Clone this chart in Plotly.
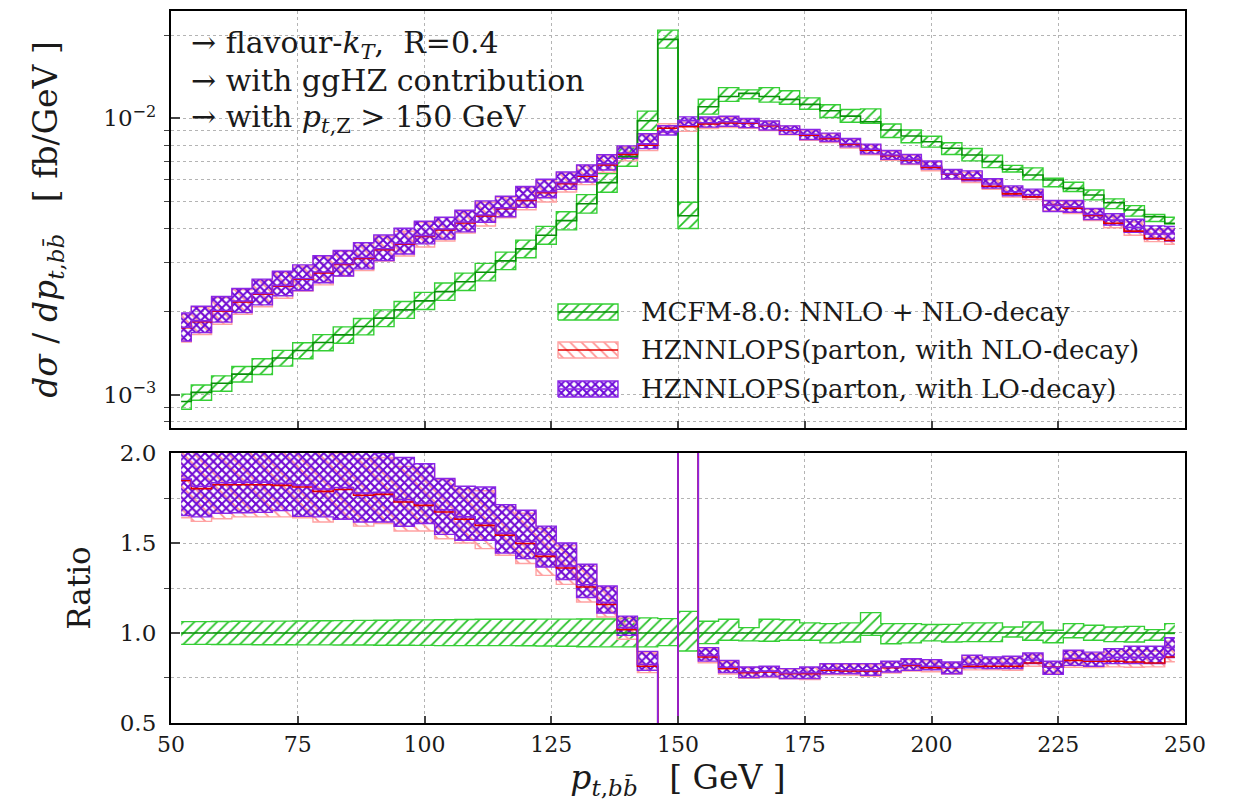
import plotly.graph_objects as go

# ---- data: differential cross section in p_t,bb (bin centres, 4 GeV bins) ----
pt = list(range(52, 249, 4))

# MCFM-8.0 NNLO + NLO-decay central value [fb/GeV]
mcfm = [0.000946, 0.00102, 0.00110, 0.001188, 0.001266, 0.001358, 0.001446, 0.001545,
        0.001647, 0.001765, 0.001893, 0.002028, 0.002186, 0.002361, 0.002563, 0.002776,
        0.00305, 0.00337, 0.003776, 0.004265, 0.004912, 0.005853, 0.00727, 0.0098,
        0.0193, 0.00444, 0.01101, 0.0120, 0.01231, 0.0120, 0.01171, 0.01123,
        0.01065, 0.01019, 0.00972, 0.00907, 0.00863, 0.00823, 0.00779, 0.00737,
        0.00697, 0.00654, 0.00624, 0.00598, 0.00558, 0.00528, 0.00495, 0.00466,
        0.00441, 0.00417]

# MCFM scale band relative to its central value
mcfm_lo_r = [0.937, 0.937, 0.936, 0.936, 0.935, 0.935, 0.934, 0.934, 0.933, 0.933,
             0.932, 0.932, 0.931, 0.930, 0.930, 0.930, 0.930, 0.929, 0.928, 0.926,
             0.924, 0.923, 0.923, 0.923, 0.930, 0.900, 0.941, 0.960, 0.956, 0.954,
             0.960, 0.960, 0.945, 0.950, 0.987, 0.940, 0.945, 0.956, 0.950, 0.952,
             0.952, 0.978, 0.960, 0.946, 0.974, 0.960, 0.952, 0.950, 0.960, 0.997]
mcfm_hi_r = [1.063, 1.063, 1.064, 1.065, 1.066, 1.066, 1.067, 1.068, 1.069, 1.070,
             1.071, 1.072, 1.073, 1.074, 1.075, 1.076, 1.076, 1.076, 1.077, 1.077,
             1.078, 1.078, 1.082, 1.084, 1.080, 1.120, 1.065, 1.076, 1.030, 1.076,
             1.074, 1.056, 1.052, 1.056, 1.113, 1.052, 1.052, 1.047, 1.048, 1.056,
             1.056, 1.033, 1.061, 1.015, 1.052, 1.043, 1.033, 1.037, 1.019, 1.052]

# HZNNLOPS (parton, NLO-decay) relative to MCFM central
nlo_r = [1.848, 1.802, 1.824, 1.824, 1.824, 1.820, 1.811, 1.787, 1.797, 1.765,
         1.770, 1.728, 1.709, 1.672, 1.632, 1.598, 1.543, 1.497, 1.426, 1.361,
         1.256, 1.158, 1.019, 0.815, 0.477, 2.10, 0.867, 0.802, 0.780, 0.783,
         0.774, 0.774, 0.793, 0.789, 0.789, 0.807, 0.820, 0.807, 0.807, 0.815,
         0.815, 0.815, 0.833, 0.811, 0.848, 0.843, 0.843, 0.839, 0.833, 0.867]
nlo_lo_r = [1.640, 1.620, 1.635, 1.645, 1.645, 1.645, 1.640, 1.617, 1.632, 1.594,
            1.608, 1.567, 1.567, 1.524, 1.500, 1.469, 1.432, 1.386, 1.320, 1.270,
            1.172, 1.089, 0.965, 0.780, 0.460, 2.02, 0.835, 0.772, 0.748, 0.752,
            0.745, 0.742, 0.768, 0.766, 0.760, 0.778, 0.788, 0.785, 0.772, 0.795,
            0.795, 0.793, 0.815, 0.775, 0.810, 0.808, 0.812, 0.810, 0.812, 0.840]
nlo_hi_r = [2.06, 2.03, 2.04, 2.02, 2.05, 2.04, 2.02, 2.04, 2.00, 1.97,
            1.975, 1.926, 1.920, 1.852, 1.797, 1.790, 1.700, 1.665, 1.580, 1.485,
            1.370, 1.250, 1.085, 0.890, 0.495, 2.18, 0.912, 0.840, 0.808, 0.812,
            0.800, 0.806, 0.826, 0.825, 0.824, 0.838, 0.852, 0.845, 0.835, 0.865,
            0.858, 0.860, 0.878, 0.840, 0.895, 0.885, 0.895, 0.905, 0.900, 0.955]

# HZNNLOPS (parton, LO-decay) relative to MCFM central
lo_r = [1.855, 1.815, 1.835, 1.838, 1.838, 1.832, 1.822, 1.800, 1.808, 1.778,
        1.782, 1.740, 1.722, 1.685, 1.645, 1.610, 1.555, 1.510, 1.438, 1.372,
        1.268, 1.170, 1.030, 0.825, 0.464, 2.21, 0.875, 0.810, 0.785, 0.788,
        0.778, 0.780, 0.800, 0.796, 0.795, 0.812, 0.825, 0.815, 0.810, 0.825,
        0.830, 0.830, 0.850, 0.810, 0.858, 0.850, 0.865, 0.865, 0.865, 0.918]
lo_lo_r = [1.652, 1.645, 1.665, 1.668, 1.670, 1.680, 1.648, 1.645, 1.632, 1.617,
           1.617, 1.593, 1.608, 1.548, 1.515, 1.515, 1.444, 1.413, 1.367, 1.297,
           1.197, 1.111, 0.987, 0.793, 0.451, 2.12, 0.844, 0.780, 0.752, 0.756,
           0.747, 0.747, 0.774, 0.774, 0.765, 0.783, 0.793, 0.796, 0.774, 0.807,
           0.802, 0.802, 0.830, 0.770, 0.820, 0.815, 0.830, 0.830, 0.830, 0.863]
lo_hi_r = [2.09, 2.05, 2.06, 2.04, 2.07, 2.06, 2.04, 2.06, 2.02, 2.01,
           2.00, 1.975, 1.940, 1.858, 1.815, 1.811, 1.713, 1.682, 1.594, 1.500,
           1.382, 1.261, 1.094, 0.898, 0.487, 2.28, 0.919, 0.848, 0.811, 0.815,
           0.802, 0.811, 0.830, 0.830, 0.830, 0.843, 0.857, 0.852, 0.839, 0.876,
           0.867, 0.871, 0.889, 0.843, 0.904, 0.894, 0.913, 0.926, 0.926, 0.974]

names = ["MCFM-8.0: NNLO + NLO-decay",
         "HZNNLOPS(parton, with NLO-decay)",
         "HZNNLOPS(parton, with LO-decay)"]

FONT = "DejaVu Serif"
INK = "#1a1a1a"

# figure geometry (pixels) used to place the in-plot legend
W, H = 1244, 807
L, R, T, B = 171, 59, 11, 84


def px_x(p):
    return (p - L) / (W - L - R)


def px_y(p):
    return (H - B - p) / (H - T - B)


def scaled(ratios):
    return [m * r for m, r in zip(mcfm, ratios)]


fig = go.Figure()

styles = [
    # edge, pattern colour, pattern, size, solidity, central line
    ("#35cf35", "#22c022", "/", 8, 0.22, "#089008"),
    ("#ffa3a3", "#ff9090", "\\", 8, 0.22, "#e00000"),
    ("#8a26e6", "#6c08d8", "x", 6, 0.55, "#8a26e6"),
]


def pattern(st):
    edge, pc, shp, sz, sol, mc = st
    return dict(shape=shp, fgcolor=pc, fgopacity=1, bgcolor="rgba(255,255,255,0)",
                size=sz, solidity=sol)


def add_band(lo, hi, xa, ya, st):
    edge = st[0]
    common = dict(x=pt, xaxis=xa, yaxis=ya, mode="lines", hoverinfo="skip",
                  showlegend=False)
    fig.add_trace(go.Scatter(y=lo, line=dict(color=edge, width=1.4, shape="hvh"),
                             **common))
    fig.add_trace(go.Scatter(y=hi, line=dict(color=edge, width=1.4, shape="hvh"),
                             fill="tonexty", fillcolor="rgba(0,0,0,0)",
                             fillpattern=pattern(st), **common))


def add_central(mid, xa, ya, st):
    fig.add_trace(go.Scatter(x=pt, y=mid, xaxis=xa, yaxis=ya, mode="lines",
                             line=dict(color=st[5], width=1.6, shape="hvh"),
                             hoverinfo="skip", showlegend=False))


series_ratio = [
    (mcfm_lo_r, [1.0] * len(pt), mcfm_hi_r),
    (nlo_lo_r, nlo_r, nlo_hi_r),
    (lo_lo_r, lo_r, lo_hi_r),
]

# hatched uncertainty bands: upper panel absolute, lower panel ratio to MCFM
for (lo, mid, hi), st in zip(series_ratio, styles):
    add_band(scaled(lo), scaled(hi), "x", "y", st)
    add_band(lo, hi, "x2", "y2", st)

# central values drawn over all bands
for (lo, mid, hi), st in zip(series_ratio, styles):
    add_central(scaled(mid), "x", "y", st)
    add_central(mid, "x2", "y2", st)

# legend drawn on a transparent overlay axis spanning the whole plot area
legend_rows = [312, 350, 389]
x0, x1 = px_x(558), px_x(618)
annotations = []
for row, st, nm in zip(legend_rows, styles, names):
    edge, pc, shp, sz, sol, mc = st
    y0, y1 = px_y(row + 8), px_y(row - 8)
    fig.add_trace(go.Scatter(x=[x0, x1, x1, x0, x0], y=[y0, y0, y1, y1, y0],
                             xaxis="x3", yaxis="y3", mode="lines", fill="toself",
                             fillcolor="rgba(0,0,0,0)", fillpattern=pattern(st),
                             line=dict(color=edge, width=1.4), hoverinfo="skip",
                             showlegend=False))
    ym = px_y(row)
    fig.add_trace(go.Scatter(x=[x0, x1], y=[ym, ym], xaxis="x3", yaxis="y3",
                             mode="lines", line=dict(color=mc, width=1.6),
                             hoverinfo="skip", showlegend=False))
    annotations.append(dict(xref="paper", yref="paper", x=px_x(639), y=ym,
                            xanchor="left", yanchor="middle", showarrow=False,
                            text=nm, font=dict(family=FONT, size=26, color=INK)))

# header lines in the top-left corner
header = ["\u2192 flavour-<i>k</i><sub><i>T</i></sub>,  R=0.4",
          "\u2192 with ggHZ contribution",
          "\u2192 with <i>p</i><sub><i>t</i>,Z</sub> &gt; 150 GeV"]
for row, txt in zip([45, 81, 118], header):
    annotations.append(dict(xref="paper", yref="paper", x=px_x(189), y=px_y(row),
                            xanchor="left", yanchor="middle", showarrow=False,
                            text=txt, font=dict(family=FONT, size=30, color=INK)))

grid = dict(showgrid=True, gridcolor="#b4b4b4", gridwidth=1, griddash="3px,3px")
frame = dict(showline=True, linecolor="black", linewidth=2.2, mirror=True,
             zeroline=False, automargin=False)
xtickfont = dict(family=FONT, size=22, color=INK)
ytickfont = dict(family=FONT, size=23, color=INK)
minor_grid = dict(ticks="outside", ticklen=5, tickwidth=1, showgrid=True,
                  gridcolor="#b4b4b4", griddash="3px,3px")

minor_log = [8e-4, 9e-4] + [k * 1e-3 for k in range(2, 10)] + [2e-2]

sub = "<sub><i>t</i>,<i>b</i><i>b&#772;</i></sub>"
title_font = dict(family=FONT, size=33, color=INK)

fig.update_layout(
    width=W, height=H,
    margin=dict(l=L, r=R, t=T, b=B, autoexpand=False),
    paper_bgcolor="white", plot_bgcolor="rgba(0,0,0,0)",
    font=dict(family=FONT, color=INK),
    showlegend=False,
    xaxis=dict(domain=[0, 1], anchor="y", range=[50, 250], matches="x2",
               showticklabels=False, ticks="inside", ticklen=7, tickwidth=1.5,
               tickvals=[75, 100, 125, 150, 175, 200, 225], **grid, **frame),
    yaxis=dict(domain=[0.4143, 1], anchor="x", type="log",
               range=[-3.1203, -1.6117],
               tickmode="array", tickvals=[1e-3, 1e-2],
               ticktext=["10<sup>\u22123</sup>", "10<sup>\u22122</sup>"],
               ticks="inside", ticklen=9, tickwidth=1.5, tickfont=ytickfont,
               ticklabelstandoff=8,
               minor=dict(tickmode="array", tickvals=minor_log, **minor_grid),
               title=dict(text="<i>d\u03c3</i> / <i>dp</i>" + sub + "   [ fb/GeV ]",
                          font=title_font, standoff=36),
               **grid, **frame),
    xaxis2=dict(domain=[0, 1], anchor="y2", range=[50, 250],
                tickmode="array",
                tickvals=[50, 75, 100, 125, 150, 175, 200, 225, 250],
                ticks="inside", ticklen=7, tickwidth=1.5, tickfont=xtickfont,
                title=dict(text="<i>p</i>" + sub + "   [ GeV ]",
                           font=title_font, standoff=10),
                **grid, **frame),
    yaxis2=dict(domain=[0, 0.3792], anchor="x2", range=[0.5, 2.0],
                tickmode="array", tickvals=[0.5, 1.0, 1.5, 2.0],
                ticktext=["0.5", "1.0", "1.5", "2.0"],
                ticks="inside", ticklen=9, tickwidth=1.5, tickfont=ytickfont,
                ticklabelstandoff=8,
                minor=dict(tickmode="array", tickvals=[0.75, 1.25, 1.75],
                           **minor_grid),
                title=dict(text="Ratio", font=dict(family=FONT, size=31, color=INK),
                           standoff=20),
                **grid, **frame),
    xaxis3=dict(domain=[0, 1], anchor="y3", range=[0, 1], visible=False,
                fixedrange=True),
    yaxis3=dict(domain=[0, 1], anchor="x3", range=[0, 1], visible=False,
                fixedrange=True),
    annotations=annotations,
)

fig.write_html("out.html")
